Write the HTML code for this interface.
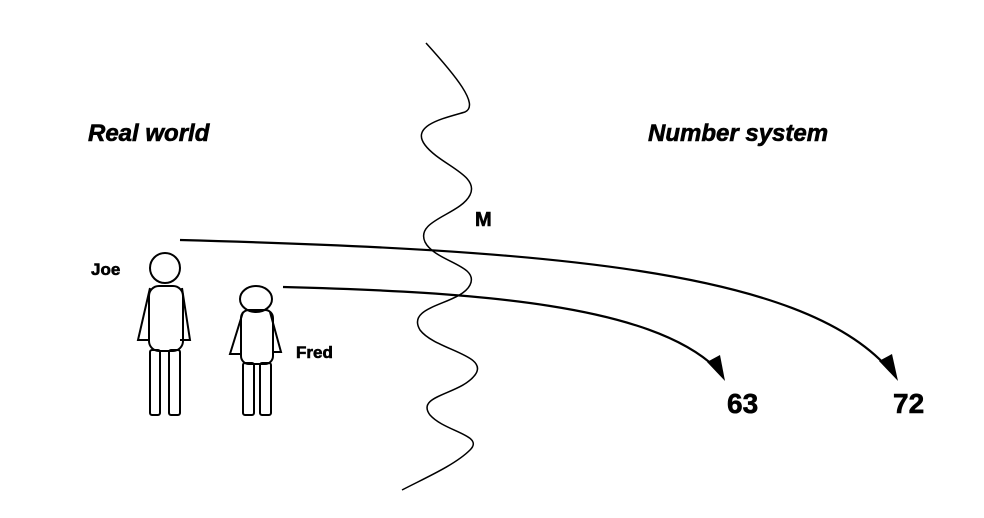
<!DOCTYPE html>
<html><head><meta charset="utf-8"><style>
html,body{margin:0;padding:0;background:#fff;}
svg{display:block;}
text{font-family:"Liberation Sans",sans-serif;font-weight:bold;fill:#000;stroke:#000;stroke-width:0.6;}
</style></head><body>
<svg width="984" height="518" viewBox="0 0 984 518">
<rect width="984" height="518" fill="#fff"/>
<text x="88" y="141" font-size="24" font-style="italic">Real world</text>
<text x="648" y="141" font-size="24" font-style="italic">Number system</text>
<text x="475" y="226" font-size="20">M</text>
<path fill="none" stroke="#000" stroke-width="1.5"
 d="M426,43 C455,75 480,105 465,112 C445,118 410,125 425,145 C440,165 480,175 470,195 C460,215 415,220 425,242 C435,262 480,265 470,285 C460,305 405,305 420,330 C435,350 490,355 475,375 C460,395 415,395 430,415 C445,432 485,435 470,450 C455,465 425,478 402,490"/>
<g fill="none" stroke="#000" stroke-width="2">
<ellipse cx="165" cy="268" rx="15" ry="15"/>
<path d="M150,288 L138,340 L150,340 M182,288 L190,340 L180,340"/>
<rect x="149" y="286" width="34" height="65" rx="10"/>
<rect x="150" y="350" width="10" height="65" rx="2"/>
<rect x="169" y="350" width="11" height="65" rx="2"/>
</g>
<text x="91" y="275" font-size="17">Joe</text>
<g fill="none" stroke="#000" stroke-width="2">
<ellipse cx="256" cy="299" rx="16" ry="13"/>
<path d="M243,312 L230,354 L242,354 M270,312 L281,352 L272,352"/>
<rect x="241" y="310" width="32" height="54" rx="8"/>
<rect x="243" y="363" width="11" height="52" rx="2"/>
<rect x="260" y="363" width="11" height="52" rx="2"/>
</g>
<text x="296" y="358" font-size="17">Fred</text>
<path fill="none" stroke="#000" stroke-width="2.2" d="M180,240 C550,250 800,270 888,368"/>
<polygon points="879,361 892,354 898,381" fill="#000"/>
<path fill="none" stroke="#000" stroke-width="2.2" d="M283,287 C480,292 650,305 716,368"/>
<polygon points="707,362 720,355 725,381" fill="#000"/>
<text x="727" y="413" font-size="28">63</text>
<text x="893" y="413" font-size="28">72</text>
</svg>
</body></html>
